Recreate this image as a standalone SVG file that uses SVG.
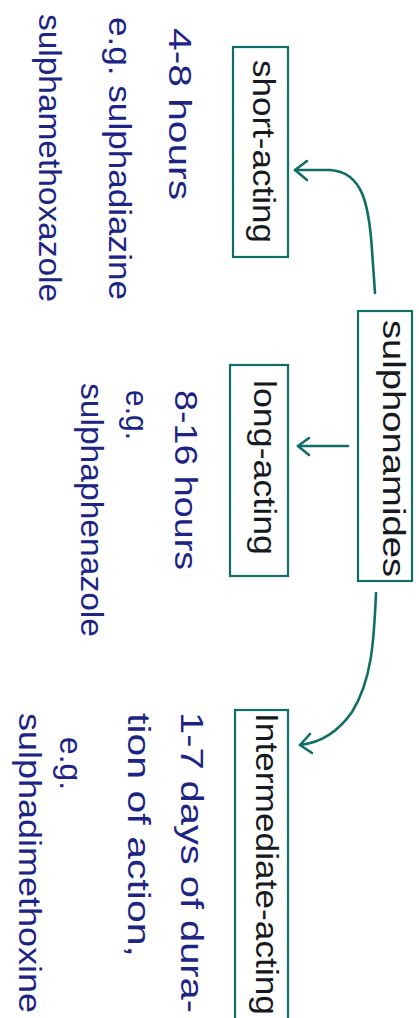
<svg xmlns="http://www.w3.org/2000/svg" width="419" height="1018" viewBox="0 0 419 1018">
<style>
.box{fill:none;stroke:#0f6e66;stroke-width:2.2}
.con{fill:none;stroke:#0f6e66;stroke-width:2.6;stroke-linecap:round;stroke-linejoin:round}
.lbl{font-family:"Liberation Sans","DejaVu Sans",sans-serif;font-size:31px;fill:#16191d;dominant-baseline:central}
.txt{font-family:"Liberation Sans","DejaVu Sans",sans-serif;font-size:32px;fill:#1c2484;dominant-baseline:central}
</style>
<rect width="419" height="1018" fill="#ffffff"/>
<g id="connectors">
  <path class="con" d="M375,293 L372,250 C369,205 363,172 330,170 L295,170"/>
  <path class="con" d="M307,161 L295,170 L307,180"/>
  <path class="con" d="M348,446 L298,446"/>
  <path class="con" d="M309,438 L298,446 L309,455"/>
  <path class="con" d="M376,593 C374,640 372,680 352,712 C336,735 318,743 300,745"/>
  <path class="con" d="M310,734 L300,745 L312,753"/>
</g>
<g id="sulphonamides">
  <rect class="box" x="358" y="311" width="54" height="270"/>
  <text class="lbl" transform="translate(393,320) rotate(90)" textLength="257" lengthAdjust="spacingAndGlyphs">sulphonamides</text>
</g>
<g id="short-acting">
  <rect class="box" x="233" y="47" width="55" height="210"/>
  <text class="lbl" transform="translate(263,60) rotate(90)" textLength="183" lengthAdjust="spacingAndGlyphs">short-acting</text>
  <text class="txt" transform="translate(180,28) rotate(90)" textLength="172" lengthAdjust="spacingAndGlyphs">4-8 hours</text>
  <text class="txt" transform="translate(120,17) rotate(90)" textLength="283" lengthAdjust="spacingAndGlyphs">e.g. sulphadiazine</text>
  <text class="txt" transform="translate(50,14) rotate(90)" textLength="288" lengthAdjust="spacingAndGlyphs">sulphamethoxazole</text>
</g>
<g id="long-acting">
  <rect class="box" x="230" y="365" width="58" height="211"/>
  <text class="lbl" transform="translate(264,380) rotate(90)" textLength="175" lengthAdjust="spacingAndGlyphs">long-acting</text>
  <text class="txt" transform="translate(186,390) rotate(90)" textLength="180" lengthAdjust="spacingAndGlyphs">8-16 hours</text>
  <text class="txt" transform="translate(137,390) rotate(90)" textLength="50" lengthAdjust="spacingAndGlyphs">e.g.</text>
  <text class="txt" transform="translate(92,383) rotate(90)" textLength="254" lengthAdjust="spacingAndGlyphs">sulphaphenazole</text>
</g>
<g id="intermediate-acting">
  <rect class="box" x="235" y="710" width="53" height="330"/>
  <text class="lbl" transform="translate(266,713) rotate(90)" textLength="302" lengthAdjust="spacingAndGlyphs">Intermediate-acting</text>
  <text class="txt" transform="translate(192,712) rotate(90)" textLength="301" lengthAdjust="spacingAndGlyphs">1-7 days of dura-</text>
  <text class="txt" transform="translate(139,713) rotate(90)" textLength="244" lengthAdjust="spacingAndGlyphs">tion of action,</text>
  <text class="txt" transform="translate(71,737) rotate(90)" textLength="53" lengthAdjust="spacingAndGlyphs">e.g.</text>
  <text class="txt" transform="translate(30,713) rotate(90)" textLength="300" lengthAdjust="spacingAndGlyphs">sulphadimethoxine</text>
</g>
</svg>
